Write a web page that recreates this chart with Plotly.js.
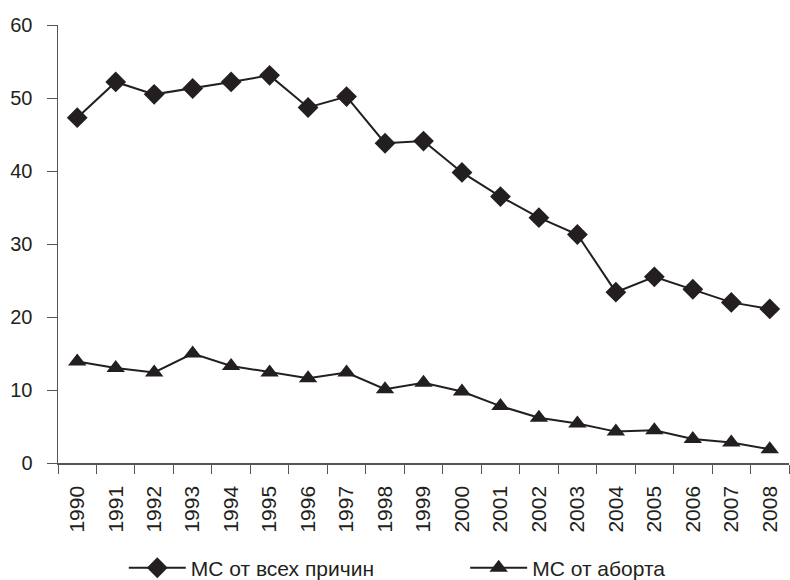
<!DOCTYPE html>
<html>
<head>
<meta charset="utf-8">
<script src="https://cdn.plot.ly/plotly-3.0.1.min.js"></script>
<style>body{margin:0;background:#fff;}#chart{width:790px;height:580px;}</style>
</head>
<body>
<div id="chart"></div>
<script>
const years = ['1990','1991','1992','1993','1994','1995','1996','1997','1998','1999','2000','2001','2002','2003','2004','2005','2006','2007','2008'];
const allCauses = [47.3,52.2,50.5,51.3,52.2,53.1,48.7,50.2,43.8,44.1,39.8,36.5,33.6,31.3,23.4,25.5,23.8,22.0,21.1];
const abortion = [13.9,13.0,12.4,15.0,13.3,12.4,11.6,12.4,10.1,11.0,9.8,7.8,6.2,5.4,4.3,4.5,3.3,2.8,1.9];
const seriesNames = ['МС от всех причин','МС от аборта'];

const ink = '#231f20';
const traces = [
  {x: years, y: allCauses, name: seriesNames[0], type: 'scatter', mode: 'lines+markers', legend: 'legend',
   line: {color: ink, width: 2}, marker: {symbol: 'diamond', size: 16, color: ink}},
  {x: years, y: abortion, name: seriesNames[1], type: 'scatter', mode: 'lines+markers', legend: 'legend2',
   line: {color: ink, width: 2}, marker: {symbol: 'triangle-up', size: 16, color: ink}}
];
const legendBase = {orientation: 'h', xanchor: 'left', y: -0.24, yanchor: 'middle',
                    itemwidth: 57, font: {size: 21}, bgcolor: 'rgba(0,0,0,0)'};
const layout = {
  width: 790, height: 580,
  margin: {l: 58, r: 1, t: 25, b: 117, autoexpand: false},
  paper_bgcolor: '#fff', plot_bgcolor: '#fff',
  font: {family: 'Liberation Sans, Arial, sans-serif', size: 20, color: ink},
  showlegend: true,
  legend: Object.assign({}, legendBase, {x: 0.09}),
  legend2: Object.assign({}, legendBase, {x: 0.557}),
  xaxis: {type: 'category', range: [-0.5, years.length - 0.5], tickson: 'boundaries', ticks: 'outside',
          ticklen: 9, tickcolor: '#555',
          showline: true, linecolor: '#555', linewidth: 1.5, showgrid: false, tickangle: -90,
          tickfont: {size: 21}, zeroline: false, ticklabelstandoff: 13, automargin: false},
  yaxis: {range: [0, 60], dtick: 10, ticks: 'outside', ticklen: 10, tickcolor: '#555',
          showline: true, linecolor: '#555', linewidth: 1.5, showgrid: false, zeroline: false,
          tickfont: {size: 20}, ticklabelstandoff: 10, automargin: false}
};
Plotly.newPlot('chart', traces, layout, {displayModeBar: false, staticPlot: true});
</script>
</body>
</html>
